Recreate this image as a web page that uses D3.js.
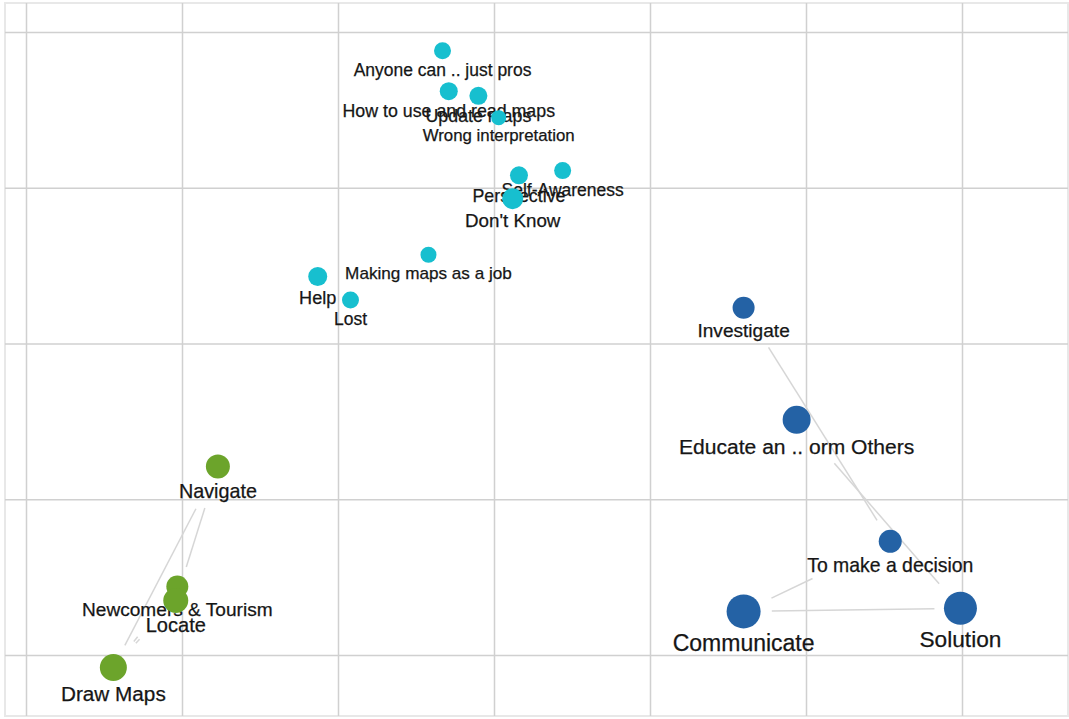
<!DOCTYPE html>
<html lang="en">
<head>
  <meta charset="UTF-8">
  <title>Map Concepts Graph</title>
  <script src="https://d3js.org/d3.v7.min.js"></script>
  <style>
    body { margin: 0; background: #fff; }
  </style>
</head>
<body>
  <svg width="1069" height="719"></svg>
  <script>
    // nodes, in drawing order
    const names = [
      "Anyone can ..  just pros", "How to use and read maps", "Update maps", "Wrong interpretation",
      "Self-Awareness", "Perspective", "Don't Know", "Making maps as a job", "Help", "Lost",
      "Investigate", "Educate an .. orm Others", "To make a decision", "Communicate", "Solution",
      "Navigate", "Newcomers & Tourism", "Locate", "Draw Maps"
    ];
    const groups = [
      "c", "c", "c", "c", "c", "c", "c", "c", "c", "c",
      "b", "b", "b", "b", "b",
      "g", "g", "g", "g"
    ];
    const xs = [2.67, 2.71, 2.90, 3.03, 3.44, 3.16, 3.12, 2.58, 1.87, 2.08,
                4.60, 4.94, 5.54, 4.60, 5.99,
                1.23, 0.97, 0.96, 0.56];
    const ys = [0.12, 0.38, 0.41, 0.55, 0.89, 0.92, 1.07, 1.43, 1.57, 1.72,
                1.77, 2.49, 3.27, 3.72, 3.70,
                2.79, 3.56, 3.65, 4.08];
    const sizes = [17, 18, 18, 15, 17, 18, 21, 16, 19, 17,
                   22, 28, 23, 34, 33,
                   24, 22, 25, 27];

    // links: source, target, visible part of the segment
    const linkSource = ["Investigate", "Educate an .. orm Others", "Communicate", "Communicate",
                        "Navigate", "Navigate", "Newcomers & Tourism", "Locate"];
    const linkTarget = ["To make a decision", "Solution", "To make a decision", "Solution",
                        "Draw Maps", "Locate", "Draw Maps", "Draw Maps"];
    const linkFrom = [0.17, 0.23, 0.19, 0.13, 0.21, 0.31, 0.62, 0.58];
    const linkTo   = [0.91, 0.87, 0.47, 0.88, 0.89, 0.75, 0.68, 0.64];

    const colors = { c: "#17bfcf", b: "#2462a5", g: "#6ca42b" };

    const svg = d3.select("svg");
    const frame = { left: 5, top: 3, right: 1068, bottom: 716 };

    const x = d3.scaleLinear().domain([0, 6]).range([26, 962]);
    const y = d3.scaleLinear().domain([0, 4]).range([32, 655]);
    const fontSize = d3.scaleLinear().domain([14, 34]).range([16.5, 23]);

    const nodes = names.map((n, i) => ({
      name: n, group: groups[i], x: xs[i], y: ys[i], size: sizes[i]
    }));
    const byName = new Map(nodes.map(d => [d.name, d]));
    const links = linkSource.map((s, i) => ({
      source: byName.get(s), target: byName.get(linkTarget[i]), t0: linkFrom[i], t1: linkTo[i]
    }));

    svg.append("rect")
        .attr("x", frame.left)
        .attr("y", frame.top)
        .attr("width", frame.right - frame.left)
        .attr("height", frame.bottom - frame.top)
        .attr("fill", "#fff")
        .attr("stroke", "#e8e8e8")
        .attr("stroke-width", 2);

    // grid
    const gx = svg.append("g")
        .attr("transform", `translate(0,${frame.bottom})`)
        .call(d3.axisBottom(x).ticks(6).tickSize(-(frame.bottom - frame.top)).tickFormat(""));
    const gy = svg.append("g")
        .attr("transform", `translate(${frame.left},0)`)
        .call(d3.axisLeft(y).ticks(4).tickSize(-(frame.right - frame.left)).tickFormat(""));
    [gx, gy].forEach(g => {
      g.select(".domain").remove();
      g.selectAll(".tick line").attr("stroke", "#d0d0d0").attr("stroke-width", 1.5);
    });

    // links
    const lerp = (a, b, t) => a + (b - a) * t;
    svg.append("g")
        .attr("stroke", "#d6d6d6")
        .attr("stroke-width", 1.5)
      .selectAll("line")
      .data(links)
      .join("line")
        .attr("x1", d => lerp(x(d.source.x), x(d.target.x), d.t0))
        .attr("y1", d => lerp(y(d.source.y), y(d.target.y), d.t0))
        .attr("x2", d => lerp(x(d.source.x), x(d.target.x), d.t1))
        .attr("y2", d => lerp(y(d.source.y), y(d.target.y), d.t1));

    // nodes with labels
    const node = svg.append("g")
        .attr("font-family", "'Liberation Sans', Arial, Helvetica, sans-serif")
      .selectAll("g")
      .data(nodes)
      .join("g")
        .attr("transform", d => `translate(${x(d.x)},${y(d.y)})`);

    node.append("circle")
        .attr("r", d => d.size / 2)
        .attr("fill", d => colors[d.group]);

    node.append("text")
        .attr("text-anchor", "middle")
        .attr("font-size", d => fontSize(d.size))
        .attr("y", d => d.size / 2 + fontSize(d.size) * 0.97)
        .attr("fill", "#161616")
        .attr("stroke", "#161616")
        .attr("stroke-width", 0.25)
        .text(d => d.name);
  </script>
</body>
</html>
